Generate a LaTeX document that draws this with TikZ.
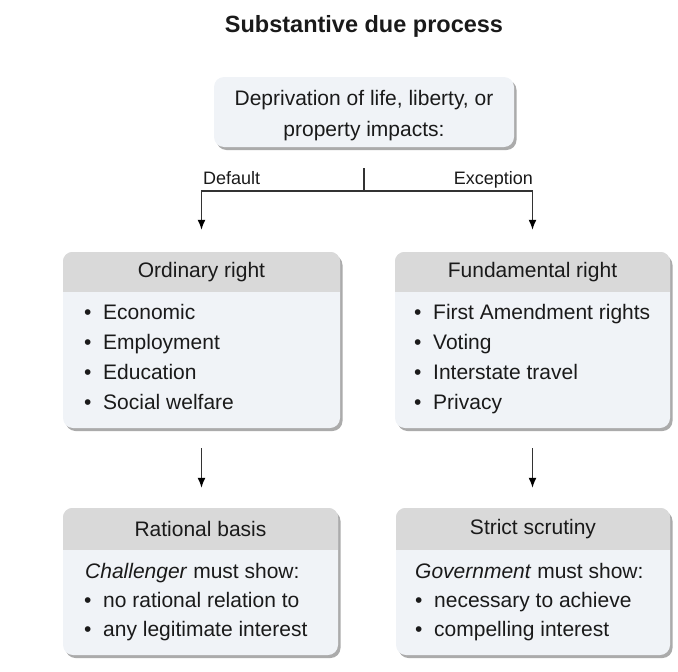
\documentclass[tikz,border=0pt]{standalone}
\usepackage{fontspec}
\setmainfont{Liberation Sans}
\usetikzlibrary{arrows.meta,shadows}
\definecolor{boxfill}{HTML}{F0F3F7}
\definecolor{headfill}{HTML}{D9D9D9}
\definecolor{ink}{HTML}{1A1A1A}
\definecolor{linec}{HTML}{333333}
\newcommand{\bul}{\makebox[19pt][l]{•}}
\tikzset{
  box/.style={rectangle, rounded corners=10pt, fill=boxfill, inner sep=0pt,
    drop shadow={shadow xshift=2.5pt, shadow yshift=-3pt, opacity=0.55, fill=black!60}},
  body/.style={font=\fontsize{21}{31}\selectfont, text=ink, inner sep=0pt},
  lbl/.style={font=\fontsize{18}{21}\selectfont, text=ink, inner sep=0pt},
  conn/.style={draw=linec, line width=1.5pt},
  arr/.style={conn, -{Latex[length=10pt,width=8pt,fill=black,color=black]}},
}
\begin{document}
\begin{tikzpicture}[x=1pt,y=-1pt]
\useasboundingbox (0,0) rectangle (678,672);

\node[font=\bfseries\fontsize{23.5}{28}\selectfont, text=ink, inner sep=0pt, anchor=base] (title) at (364,32.5) {Substantive due process};

% top box
\node[box, minimum width=300pt, minimum height=70pt] (dep) at (364,112) {};
\node[body, align=center] (deptxt) at ([yshift=-4pt]dep.center)
  {Deprivation of life, liberty, or\\property impacts:};

% rights boxes
\node[box, minimum width=277pt, minimum height=176pt] (ord) at (201.5,340) {};
\node[box, minimum width=275pt, minimum height=176pt] (fund) at (532.5,340) {};
\node[box, minimum width=275pt, minimum height=147pt] (rat) at (200.5,581.5) {};
\node[box, minimum width=274pt, minimum height=147pt] (strict) at (533,581.5) {};

\foreach \b/\h in {ord/40, fund/40, rat/42, strict/42} {
  \begin{scope}
    \clip[rounded corners=10pt] (\b.north west) rectangle (\b.south east);
    \fill[headfill] (\b.north west) rectangle ([yshift=-\h pt]\b.north east);
  \end{scope}
}

\node[body] (ordh) at ([yshift=-20pt]ord.north) {Ordinary right};
\node[body] (fundh) at ([yshift=-20pt]fund.north) {Fundamental right};
\node[body] (rath) at ([yshift=-21pt]rat.north) {Rational basis};
\node[body] (stricth) at ([yshift=-21pt]strict.north) {Strict scrutiny};

\foreach \t [count=\i] in {Economic, Employment, Education, Social welfare}
  \node[body, anchor=base west] (ordl\i) at (84, 289+30*\i) {\bul\t};
\foreach \t [count=\i] in {First Amendment rights, Voting, Interstate travel, Privacy}
  \node[body, anchor=base west] (fundl\i) at (414, 289+30*\i) {\bul\t};

\node[body, anchor=base west] (ratl0) at (85,578) {\textit{Challenger} must show:};
\node[body, anchor=base west] (ratl1) at (84,607) {\bul no rational relation to};
\node[body, anchor=base west] (ratl2) at (84,636) {\bul any legitimate interest};

\node[body, anchor=base west] (strictl0) at (415,578) {\textit{Government} must show:};
\node[body, anchor=base west] (strictl1) at (415,607) {\bul necessary to achieve};
\node[body, anchor=base west] (strictl2) at (415,636) {\bul compelling interest};

% connectors
\coordinate (jtop) at ([yshift=-21pt]dep.south);
\coordinate (jmid) at (364,191);
\draw[conn] (jtop) -- (jmid);
\draw[arr] (jmid) -| ([yshift=22pt]ord.north);
\draw[arr] (jmid) -| ([yshift=22pt]fund.north);

\node[lbl, anchor=base west] (deflt) at (203,184.5) {Default};
\node[lbl, anchor=base east] (excp) at (533,184.5) {Exception};

\draw[arr, shorten <=20pt, shorten >=20pt] (ord.south) -- (ord.south |- rat.north);
\draw[arr, shorten <=20pt, shorten >=20pt] (fund.south) -- (fund.south |- strict.north);
\end{tikzpicture}
\end{document}
